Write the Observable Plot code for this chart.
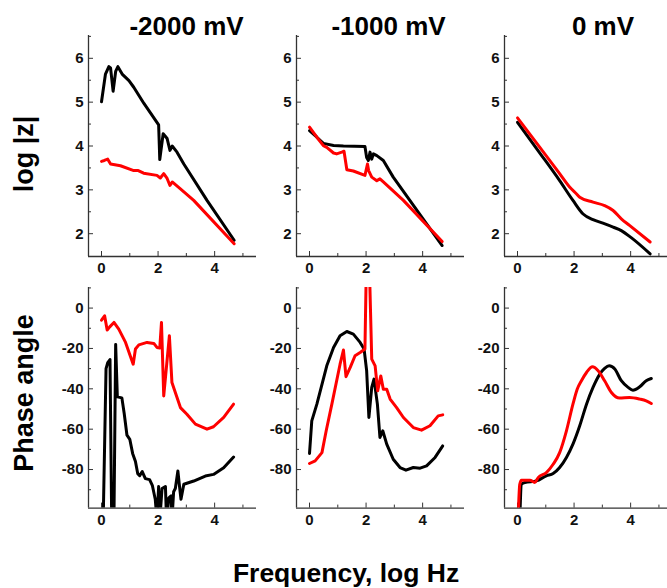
<!DOCTYPE html>
<html><head><meta charset="utf-8">
<script src="https://cdn.jsdelivr.net/npm/d3@7"></script>
<script src="https://cdn.jsdelivr.net/npm/@observablehq/plot@0.6"></script>
<style>
html,body{margin:0;padding:0;background:#fff;overflow:hidden;}
#chart{position:relative;width:667px;height:588px;overflow:hidden;font-family:"Liberation Sans",Arial,sans-serif;}
#chart svg{position:absolute;}
</style>
</head><body>
<div id="chart"></div>
<script>
// ---- titles / labels ----
const panelTitles = ["-2000 mV", "-1000 mV", "0 mV"];
const rowLabels = ["log |z|", "Phase angle"];
const xLabel = "Frequency, log Hz";

// ---- ticks ----
const xMajor = [0, 2, 4];
const xMinor = [1, 3, 5];
const zMajor = [2, 3, 4, 5, 6];
const zMinor = [2.5, 3.5, 4.5, 5.5, 6.5];
const phMajor = [0, -20, -40, -60, -80];
const phMinor = [10, -10, -30, -50, -70, -90];

// ---- log |z| data [log f, log|z|] ----
const z_m2000_black = [[0,5.01],[0.14,5.64],[0.26,5.81],[0.32,5.78],[0.41,5.25],[0.5,5.7],[0.58,5.81],[0.73,5.64],[0.97,5.49],[1.14,5.34],[1.5,4.97],[2.02,4.48],[2.06,3.69],[2.18,4.28],[2.32,4.17],[2.42,3.9],[2.5,4.0],[2.67,3.86],[2.91,3.59],[3.73,2.76],[4.69,1.85]];
const z_m2000_red = [[0,3.65],[0.1,3.67],[0.22,3.7],[0.32,3.59],[0.67,3.55],[1.14,3.44],[1.3,3.44],[1.49,3.38],[1.96,3.33],[2.08,3.27],[2.2,3.37],[2.32,3.26],[2.42,3.1],[2.5,3.18],[2.79,3.02],[3.26,2.76],[4.69,1.77]];
const z_m1000_black = [[0,4.35],[0.26,4.2],[0.49,4.06],[0.85,4.01],[1.2,4.0],[1.96,3.99],[2.02,3.74],[2.08,3.67],[2.14,3.86],[2.2,3.7],[2.26,3.82],[2.38,3.78],[2.61,3.67],[2.96,3.29],[4.69,1.73]];
const z_m1000_red = [[0,4.43],[0.26,4.2],[0.49,4.01],[0.61,3.97],[0.85,3.84],[0.96,3.82],[1.14,3.86],[1.22,3.88],[1.32,3.46],[1.55,3.43],[1.96,3.33],[2.05,3.59],[2.09,3.44],[2.2,3.29],[2.38,3.21],[2.49,3.25],[2.61,3.18],[3.32,2.76],[4.69,1.82]];
const z_0_black = [[0,4.54],[0.79,3.84],[1.49,3.21],[1.96,2.76],[2.32,2.45],[2.67,2.32],[3.02,2.24],[3.38,2.15],[3.67,2.07],[4.02,1.91],[4.69,1.54]];
const z_0_red = [[0,4.64],[0.79,3.97],[1.49,3.37],[1.85,3.06],[2.08,2.91],[2.2,2.83],[2.67,2.72],[3.08,2.64],[3.38,2.53],[3.67,2.34],[3.96,2.19],[4.69,1.81]];

// ---- phase angle data [log f, degrees] ----
const ph_m2000_black = [[0.06,-105],[0.16,-30],[0.22,-27],[0.3,-25.5],[0.36,-105],[0.44,-105],[0.5,-18],[0.56,-44],[0.72,-44.5],[0.8,-52],[0.9,-63],[1.0,-65],[1.1,-72],[1.2,-76],[1.28,-82],[1.35,-83],[1.44,-81],[1.55,-84.5],[1.7,-85],[1.8,-88],[1.9,-94.7],[1.96,-105],[2.02,-88.4],[2.06,-105],[2.14,-89.4],[2.26,-88.4],[2.3,-105],[2.38,-94],[2.46,-93],[2.49,-105],[2.55,-91],[2.61,-89.4],[2.7,-80.7],[2.75,-87.3],[2.81,-94.7],[2.91,-87.3],[3.26,-85.7],[3.67,-83.2],[3.96,-82.4],[4.32,-79.1],[4.67,-73.8]];
const ph_m2000_red = [[0,-6],[0.11,-3.8],[0.2,-10.9],[0.29,-9.3],[0.44,-7.1],[0.61,-10.4],[0.85,-17],[1.12,-27.8],[1.2,-20.3],[1.32,-18.2],[1.61,-17],[1.85,-17.5],[1.96,-19.5],[2.06,-19.8],[2.12,-7.1],[2.2,-43.5],[2.4,-13.7],[2.49,-36.9],[2.79,-49.3],[3.02,-52.6],[3.32,-57.5],[3.73,-60],[3.96,-58.8],[4.32,-54.2],[4.67,-47.6]];
const ph_m1000_black = [[0,-72],[0.08,-55.9],[0.26,-47.6],[0.61,-28.6],[0.85,-19.5],[1.08,-13.7],[1.32,-11.6],[1.55,-12.9],[1.79,-17],[1.93,-20.3],[2.02,-31],[2.1,-54.2],[2.2,-39.3],[2.28,-35.2],[2.4,-47.6],[2.49,-64.1],[2.59,-60.8],[2.73,-67.4],[2.96,-74.9],[3.2,-79],[3.41,-80.3],[3.67,-79],[3.91,-79.3],[4.14,-78.2],[4.44,-74],[4.71,-68.3]];
const ph_m1000_red = [[0,-77],[0.2,-75.7],[0.44,-71.6],[0.59,-60.8],[0.79,-47.6],[1.08,-27.8],[1.2,-20.8],[1.29,-34],[1.44,-29.4],[1.61,-23.6],[1.79,-22],[1.96,-20.3],[2.02,30],[2.1,30],[2.2,-25.3],[2.32,-28.6],[2.41,-41],[2.52,-33.6],[2.61,-40.2],[2.73,-40.2],[2.85,-45.1],[3.08,-49.3],[3.32,-54.2],[3.67,-59.2],[3.96,-60.5],[4.26,-58.3],[4.55,-53.4],[4.71,-52.9]];
const ph_0_black = [[0.08,-105],[0.14,-87.3],[0.26,-86.4],[0.67,-85.6],[1.02,-83.1],[1.26,-82],[1.49,-79],[1.73,-74],[1.96,-67.4],[2.2,-58.3],[2.44,-47.6],[2.67,-39.3],[2.91,-32.7],[3.08,-29.9],[3.24,-28.6],[3.44,-30.2],[3.67,-36],[3.91,-39.3],[4.08,-40.7],[4.32,-39],[4.55,-36],[4.73,-34.9]];
const ph_0_red = [[0.02,-105],[0.08,-87.3],[0.14,-85.3],[0.44,-85.3],[0.61,-86.4],[0.73,-84],[1.02,-81.5],[1.26,-77.4],[1.49,-71.6],[1.73,-60.8],[1.96,-47.6],[2.11,-40.2],[2.26,-36],[2.44,-31.9],[2.65,-29.1],[2.85,-31],[3.08,-36],[3.32,-41.8],[3.61,-44.6],[3.96,-44.3],[4.32,-45.1],[4.55,-46],[4.73,-47.3]];

// ---- layout ----
const xDomain = [-0.46, 5.48];
const zDomain = [1.48, 6.52];
const phDomain = [-99.1, 10.2];
const colAxisX = [88, 296, 504.3];
const rowTop = [35, 286.7];
const rowFrameH = [221, 220.6];
const ML = 45, MR = 5, MT = 5, MB = 30, FW = 168;

const chart = document.getElementById("chart");

function panel(black, red, yDomain, yMajor, yMinor, col, row, curve) {
  const H = MT + rowFrameH[row] + MB;
  const xu = (xDomain[1] - xDomain[0]) / FW;
  const yu = (yDomain[1] - yDomain[0]) / rowFrameH[row];
  const axisColor = "#333";
  const svg = Plot.plot({
    width: ML + FW + MR, height: H,
    marginLeft: ML, marginRight: MR, marginTop: MT, marginBottom: MB,
    style: {background: "transparent", overflow: "visible", fontFamily: "'Liberation Sans', Arial, sans-serif"},
    x: {domain: xDomain},
    y: {domain: yDomain},
    marks: [
      Plot.ruleX([xDomain[0]], {y1: yDomain[0], y2: yDomain[1], stroke: axisColor, strokeWidth: 1.3}),
      Plot.ruleY([yDomain[0]], {x1: xDomain[0], x2: xDomain[1], stroke: axisColor, strokeWidth: 1.3}),
      Plot.ruleY(yMajor, {y: d => d, x1: xDomain[0], x2: xDomain[0] + 5 * xu, stroke: axisColor}),
      Plot.ruleY(yMinor, {y: d => d, x1: xDomain[0], x2: xDomain[0] + 3 * xu, stroke: axisColor}),
      Plot.ruleX(xMajor, {x: d => d, y1: yDomain[0], y2: yDomain[0] + 5 * yu, stroke: axisColor}),
      Plot.ruleX(xMinor, {x: d => d, y1: yDomain[0], y2: yDomain[0] + 3 * yu, stroke: axisColor}),
      Plot.axisY({ticks: yMajor, tickFormat: d => String(d), tickSize: 0, tickPadding: 5, fontSize: 15, fontWeight: "bold", fill: "#111", label: null}),
      Plot.axisX({ticks: xMajor, tickFormat: d => String(d), tickSize: 0, tickPadding: 6, fontSize: 15, fontWeight: "bold", fill: "#111", label: null}),
      Plot.line(black, {x: d => d[0], y: d => d[1], stroke: "#000", strokeWidth: 3, clip: true, curve}),
      Plot.line(red, {x: d => d[0], y: d => d[1], stroke: "#ff0000", strokeWidth: 3, clip: true, curve})
    ]
  });
  svg.style.left = (colAxisX[col] - ML) + "px";
  svg.style.top = (rowTop[row] - MT) + "px";
  svg.style.maxWidth = "none";
  chart.appendChild(svg);
}

panel(z_m2000_black, z_m2000_red, zDomain, zMajor, zMinor, 0, 0, "linear");
panel(z_m1000_black, z_m1000_red, zDomain, zMajor, zMinor, 1, 0, "linear");
panel(z_0_black, z_0_red, zDomain, zMajor, zMinor, 2, 0, "monotone-x");
panel(ph_m2000_black, ph_m2000_red, phDomain, phMajor, phMinor, 0, 1, "linear");
panel(ph_m1000_black, ph_m1000_red, phDomain, phMajor, phMinor, 1, 1, "linear");
panel(ph_0_black, ph_0_red, phDomain, phMajor, phMinor, 2, 1, "monotone-x");

// ---- text overlay ----
const ns = "http://www.w3.org/2000/svg";
const ov = document.createElementNS(ns, "svg");
ov.setAttribute("width", 667); ov.setAttribute("height", 588);
ov.style.left = "0px"; ov.style.top = "0px"; ov.style.pointerEvents = "none";
function addText(str, x, y, size, rot) {
  const t = document.createElementNS(ns, "text");
  t.textContent = str;
  t.setAttribute("text-anchor", "middle");
  t.setAttribute("font-family", "'Liberation Sans', Arial, sans-serif");
  t.setAttribute("font-weight", "bold");
  t.setAttribute("font-size", size);
  t.setAttribute("fill", "#000");
  t.setAttribute("transform", `translate(${x},${y})` + (rot ? ` rotate(${rot})` : ""));
  ov.appendChild(t);
}
const titleX = [186.5, 388.5, 603];
panelTitles.forEach((s, i) => addText(s, titleX[i], 35, 26, 0));
addText(rowLabels[0], 32.5, 154, 27, -90);
addText(rowLabels[1], 32.5, 393, 27, -90);
addText(xLabel, 346, 581.5, 26.5, 0);
chart.appendChild(ov);
</script>
</body></html>
